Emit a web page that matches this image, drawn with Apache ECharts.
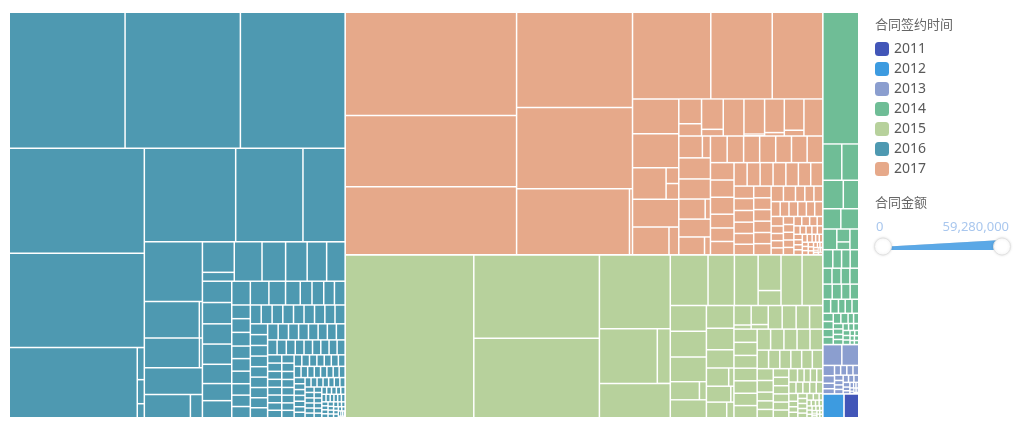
<!DOCTYPE html>
<html>
<head>
<meta charset="utf-8">
<script src="https://cdn.jsdelivr.net/npm/echarts@6/dist/echarts.min.js"></script>
<style>
html,body{margin:0;padding:0;background:#fff;}
#main{width:1024px;height:424px;}
</style>
</head>
<body>
<div id="main"></div>
<script>
// Contract sign years (legend) and their colours
const years = ['2011', '2012', '2013', '2014', '2015', '2016', '2017'];
const yearColors = ['#4256b8', '#3d9be0', '#8b9ecf', '#6fbd96', '#b7d19c', '#4e99b1', '#e6a98a'];

// Contract amounts per year, in 万元 (a nested list = several contracts of one client)
const amounts2011 = [100];
const amounts2012 = [143];
const amounts2013 = [112, 100, 34, 25, 18, 17, 17, 17, 17, 16, 13, 11, 11, 11, 11, 11, 10, 9, 7, 6, 6, 4, 4, 4, 3, 3, 3, 2];
const amounts2014 = [1340, 195, 175, 165, 125, 103, 103, [48, 29], 82, 52, 52, 46, 40, 40, 45, 45, 40, 40, 41, 41, 37, 37,
  31, 31, 27, 27, 27, 24, 23, 23, 22, 22, 21, 16, 15, 15, 15, 14, 14, 11, 10, 10, 10, 9, 9, 7, 6, 6, 6, 5, 5];
const amounts2015 = [5928, 2967, 2824, 1482, [896, 201], 690, 541, 378, 340, [231, 97], 302, 297, 263, 263, 252, 183,
  [150, 36], 177, 168, [115, 27], 142, [110, 14], [90, 32], [95, 20], [92, 22], 93, 93,
  90, 88, 87, 86, 84, 83, 82, 81, 80, 80, 79, 78, 77, 76, 60, 59, 58, 57, 56, 55, 54, 53,
  40, 39, 38, 38, 37, 36, 36, 35, 34, 33, 25, 24, 24, 23, 23, 22, 22, 21, 21, 20,
  14, 14, 14, 13, 13, 13, 12, 12, 12, 11, 7, 7, 7, 6, 6, 6, 6, 5, 5, 5, 4, 4, 3, 3, 3, 3, 3, 3];
const amounts2016 = [4459, 4440, 4033, 4018, 3602, [2543, 64, 48, 28], 2420, 1782, 1117, 979, [571, 32], [464, 25], 439,
  [303, 79], [275, 80], 309, 263, 240, 217, 206, 177, 177, 168, 168, 160, 142, 142, 125, 125, 112, 99, 79, 79, 72,
  72, 72, 72, 72, 66, 66, 66, 60, 60,
  59, 58, 58, 57, 57, 56, 56, 55, 54, 54, 53, 53, 52, 52, 51, 51, 50, 49, 49, 48, 47, 46, 45, 44,
  42, 41, 40, 40, 39, 38, 37, 36, 35, 35, 34, 34, 33, 33, 32, 32, 31, 31, 30, 30, 29, 29, 28, 28,
  27, 27, 26, 26, 25, 25, 24, 24, 23, 23, 22, 22, 21, 21, 20, 20, 20, 19, 19, 19, 18, 18, 18, 17,
  17, 17, 16, 16, 16, 15, 15, 15, 14, 14, 14, 13, 13, 13, 12, 12, 12, 11, 11, 11, 10, 10, 10, 10,
  9, 9, 9, 9, 8, 8, 8, 8, 7, 7, 7, 7, 7, 6, 6, 6, 6, 5, 5, 5, 5, 5, 4, 4, 4, 3, 3, 3];
const amounts2017 = [5008, 3452, 3306, 3125, 2664, [2114, 57], 1920, 1507, 1240, 457, 444, [301, 57, 57], [286, 77], 363,
  [160, 79], [187, 41], [206, 11], 217, [188, 19], [174, 32], [146, 50], 198, 189, [150, 30], 180, [130, 30], 160,
  126, 124, 121, 121, 119, 118, 118, 116, 115, 113, 92, 90, 89, 87, 86, 86, 85, 83, 82, 80, 69, 67, 65, 63,
  60, 59, 58, 58, 57, 56, 55, 55, 54, 53, 41, 40, 39, 38, 37, 37, 36, 35, 34, 33,
  26, 25, 25, 24, 24, 23, 23, 22, 22, 21, 21, 20, 15, 15, 14, 14, 13, 13, 13, 12, 12, 12, 11, 11,
  8, 8, 8, 7, 7, 7, 7, 6, 6, 6, 4, 4, 4, 3, 3, 3, 3, 3];
const amountsByYear = [amounts2011, amounts2012, amounts2013, amounts2014, amounts2015, amounts2016, amounts2017];

// Range of the amount legend (万元)
const amountMin = 0;
const amountMax = 5928;

function buildYear(name, color, list) {
  return {
    name: name,
    itemStyle: { color: color },
    children: list.map(function (v, i) {
      const id = name + '-' + (i + 1);
      if (Array.isArray(v)) {
        return { name: id, children: v.map(function (w, j) { return { name: id + '-' + (j + 1), value: w }; }) };
      }
      return { name: id, value: v };
    })
  };
}
const treeData = years.map(function (y, i) { return buildYear(y, yearColors[i], amountsByYear[i]); });

function fmtYuan(v) {
  return Math.round(v * 10000).toString().replace(/\B(?=(\d{3})+(?!\d))/g, ',');
}

const fontFamily = "'Noto Sans', 'Noto Sans CJK SC', sans-serif";
const chart = echarts.init(document.getElementById('main'), null, { renderer: 'canvas' });

const legendSeries = years.map(function (y, i) {
  return { type: 'scatter', name: y, data: [], itemStyle: { color: yearColors[i], opacity: 1 }, silent: true };
});

chart.setOption({
  animation: false,
  textStyle: { fontFamily: fontFamily },
  title: [
    { text: '合同签约时间', left: 875, top: 19, padding: 0, textStyle: { fontSize: 13, fontWeight: 'normal', color: '#666', fontFamily: fontFamily } },
    { text: '合同金额', left: 875, top: 197, padding: 0, textStyle: { fontSize: 13, fontWeight: 'normal', color: '#666', fontFamily: fontFamily } },
    { text: fmtYuan(amountMin), left: 876, top: 221, padding: 0, textStyle: { fontSize: 13, fontWeight: 'normal', color: '#a9c7ee', fontFamily: fontFamily } },
    { text: fmtYuan(amountMax), right: 15, top: 221, padding: 0, textStyle: { fontSize: 13, fontWeight: 'normal', color: '#a9c7ee', fontFamily: fontFamily } }
  ],
  legend: {
    orient: 'vertical', left: 875, top: 42, padding: 0,
    itemWidth: 14, itemHeight: 14, itemGap: 6, icon: 'roundRect',
    data: years, selectedMode: false,
    itemStyle: { opacity: 1 },
    textStyle: { fontSize: 14, color: '#595959', fontFamily: fontFamily }
  },
  visualMap: {
    type: 'continuous', orient: 'horizontal', seriesIndex: 8, align: 'top',
    min: amountMin, max: amountMax, calculable: false, hoverLink: false,
    left: 884, top: 240, padding: 0, itemWidth: 10, itemHeight: 118,
    inRange: { color: ['#5ba8e6', '#5ba8e6'], symbolSize: [5, 10] }
  },
  graphic: [
    { type: 'circle', z: 100, shape: { cx: 883, cy: 246.5, r: 8.5 }, style: { fill: '#fff', stroke: '#e2e2e2', lineWidth: 1, shadowBlur: 3, shadowColor: 'rgba(0,0,0,0.12)' } },
    { type: 'circle', z: 100, shape: { cx: 1002, cy: 246.5, r: 8.5 }, style: { fill: '#fff', stroke: '#e2e2e2', lineWidth: 1, shadowBlur: 3, shadowColor: 'rgba(0,0,0,0.12)' } }
  ],
  grid: { show: false, left: 0, top: 0, width: 10, height: 10 },
  xAxis: { type: 'value', show: false },
  yAxis: { type: 'value', show: false },
  series: [
    {
      type: 'treemap', name: '合同',
      left: 10, top: 13, width: 848, height: 404,
      roam: false, nodeClick: false, visibleMin: 0,
      breadcrumb: { show: false },
      label: { show: false }, upperLabel: { show: false },
      itemStyle: { borderColor: '#fff' },
      levels: [
        { itemStyle: { borderWidth: 0, gapWidth: 1.6 } },
        { itemStyle: { borderWidth: 0, gapWidth: 1.5 } },
        { itemStyle: { borderWidth: 0, gapWidth: 1.5 } },
        { itemStyle: { borderWidth: 0, gapWidth: 1 } }
      ],
      data: treeData
    }
  ].concat(legendSeries).concat([{ type: 'scatter', name: 'amount', data: [], silent: true }])
});
</script>
</body>
</html>
